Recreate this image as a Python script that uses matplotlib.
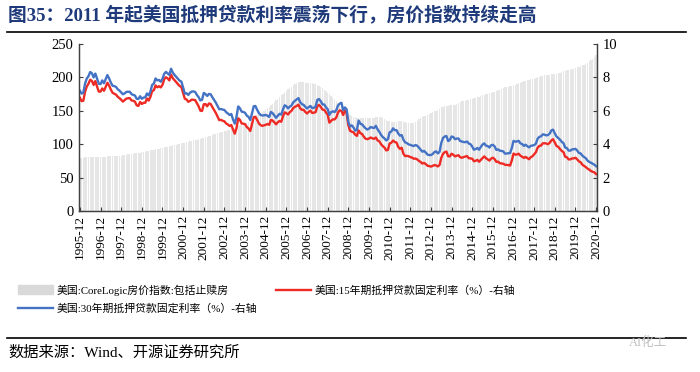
import numpy as np
import matplotlib
matplotlib.use("Agg")
import matplotlib.pyplot as plt
from matplotlib.lines import Line2D
from matplotlib.patches import Patch

plt.rcParams["font.family"] = ["Liberation Serif", "Noto Sans CJK SC"]

# monthly data, 1995-12 .. 2020-12
house_index = [80,
    80, 80, 80.5, 80.5, 80.5, 81, 81, 81, 81, 81, 81, 81,
    81.5, 81.5, 81.5, 82, 82, 82, 82, 82.5, 82.5, 83, 83, 83,
    83.5, 84, 84.5, 85, 85.5, 86, 86, 86.5, 87, 87, 87.5, 88,
    88.5, 89, 89.5, 90, 91, 91.5, 92, 92.5, 93, 93.5, 94, 95,
    95.5, 96, 96.5, 97, 98, 98.5, 99, 99.5, 100, 101, 101.5, 102,
    102.5, 103, 104, 104.5, 105, 106, 106.5, 107, 108, 108.5, 109, 110,
    110.5, 111, 112, 113, 114, 115, 115.5, 116.5, 117.5, 118, 119, 120,
    120.5, 121.5, 122, 123, 124, 125, 126, 127, 128, 129, 130, 131,
    132, 133, 135, 137, 139, 141, 143, 144.5, 146, 148, 150, 152,
    154, 156, 158, 160.5, 163, 165.5, 168, 170.5, 173, 175.5, 178, 180,
    182, 184, 186, 188, 190, 191.5, 192.5, 193, 193, 192.5, 192, 192,
    192, 191.5, 191, 190.5, 189.5, 188, 187, 185.5, 183.5, 181.5, 179.5, 177,
    175, 172.5, 170, 168, 165, 162, 159.5, 157, 154.5, 152, 149, 146,
    144, 142, 141, 140, 139.5, 139, 139, 139, 139, 139, 139, 139,
    139, 139, 139.5, 140, 140.5, 140.5, 140, 139, 137.5, 136, 135, 134,
    133.5, 133, 133, 133.5, 134, 134, 134, 133.5, 133, 132, 131.5, 131,
    131, 131.5, 133, 135, 137, 139, 140.5, 141.5, 142.5, 144, 145.5, 147,
    148, 149, 150, 151.5, 153, 155, 156, 157, 157.5, 157.5, 158, 158,
    158.5, 159, 160, 161.5, 163, 164, 164.5, 165, 165.5, 166, 167, 168,
    168.5, 169, 170, 171, 172, 173, 174, 174.5, 175, 176, 177, 178,
    178.5, 179.5, 180.5, 181.5, 183, 184, 185, 185.5, 186, 186.5, 187, 188,
    189, 190, 191, 192, 193, 194, 195, 195.5, 196, 197, 197.5, 198,
    199, 200, 200.5, 201.5, 202.5, 203, 203.5, 204, 204, 204.5, 204.5, 205,
    205.5, 206, 207, 208, 209, 210, 210.5, 211, 211.5, 212, 213, 214,
    215, 216, 217, 218, 219, 220, 222, 224, 226, 228, 230, 233]

rate_15y = [6.78,
    6.58, 6.60, 7.13, 7.45, 7.62, 7.86, 7.79, 7.55, 7.78, 7.45, 7.15, 7.15,
    7.34, 7.20, 7.43, 7.68, 7.51, 7.27, 7.08, 7.02, 6.97, 6.84, 6.76, 6.66,
    6.55, 6.64, 6.73, 6.75, 6.76, 6.62, 6.60, 6.55, 6.33, 6.29, 6.53, 6.41,
    6.48, 6.48, 6.74, 6.61, 6.83, 7.18, 7.23, 7.52, 7.41, 7.47, 7.40, 7.55,
    7.89, 8.01, 7.94, 7.82, 8.17, 7.95, 7.83, 7.71, 7.58, 7.48, 7.43, 7.06,
    6.72, 6.68, 6.54, 6.59, 6.67, 6.66, 6.64, 6.45, 6.27, 6.01, 5.99, 6.39,
    6.40, 6.27, 6.44, 6.41, 6.22, 6.05, 5.87, 5.66, 5.44, 5.46, 5.40, 5.37,
    5.24, 5.18, 5.09, 5.15, 4.88, 4.63, 4.95, 5.55, 5.46, 5.24, 5.23, 5.20,
    5.03, 4.94, 4.79, 5.19, 5.62, 5.64, 5.46, 5.25, 5.14, 5.10, 5.13, 5.16,
    5.21, 5.16, 5.45, 5.42, 5.31, 5.19, 5.31, 5.39, 5.34, 5.66, 5.91, 5.85,
    5.78, 5.92, 6.00, 6.17, 6.24, 6.29, 6.37, 6.15, 6.06, 6.06, 5.93, 5.84,
    5.94, 6.01, 5.87, 5.89, 5.92, 6.29, 6.35, 6.23, 6.07, 6.06, 5.90, 5.77,
    5.29, 5.40, 5.49, 5.48, 5.60, 5.90, 6.03, 5.99, 5.75, 6.01, 5.86, 5.14,
    4.80, 4.75, 4.71, 4.57, 4.50, 4.82, 4.66, 4.61, 4.45, 4.33, 4.30, 4.34,
    4.40, 4.35, 4.32, 4.40, 4.23, 4.17, 4.00, 3.89, 3.80, 3.63, 3.66, 4.04,
    4.09, 4.22, 4.13, 4.10, 3.84, 3.72, 3.79, 3.43, 3.29, 3.30, 3.28, 3.23,
    3.20, 3.13, 3.14, 3.09, 3.00, 2.94, 2.84, 2.88, 2.81, 2.71, 2.69, 2.66,
    2.70, 2.75, 2.73, 2.67, 2.75, 3.18, 3.42, 3.52, 3.56, 3.28, 3.27, 3.43,
    3.37, 3.27, 3.31, 3.34, 3.22, 3.19, 3.23, 3.26, 3.29, 3.16, 3.15, 3.13,
    2.98, 3.01, 3.06, 2.95, 3.06, 3.17, 3.27, 3.16, 3.09, 3.02, 3.14, 3.19,
    3.11, 2.94, 2.96, 2.86, 2.85, 2.83, 2.77, 2.76, 2.75, 2.72, 3.03, 3.44,
    3.37, 3.39, 3.43, 3.31, 3.25, 3.18, 3.24, 3.17, 3.10, 3.22, 3.28, 3.40,
    3.52, 3.79, 3.90, 3.92, 4.05, 4.06, 4.04, 4.00, 4.08, 4.23, 4.30, 4.09,
    3.89, 3.84, 3.71, 3.60, 3.53, 3.25, 3.22, 3.09, 3.09, 3.15, 3.15, 3.19,
    3.09, 2.97, 2.92, 2.77, 2.70, 2.63, 2.54, 2.48, 2.39, 2.35, 2.31, 2.21]

rate_30y = [7.20,
    7.03, 7.08, 7.62, 7.93, 8.07, 8.32, 8.25, 8.00, 8.23, 7.92, 7.62, 7.60,
    7.82, 7.65, 7.90, 8.14, 7.94, 7.69, 7.50, 7.48, 7.43, 7.29, 7.21, 7.10,
    6.99, 7.04, 7.13, 7.14, 7.14, 7.00, 6.95, 6.92, 6.72, 6.71, 6.87, 6.72,
    6.79, 6.81, 7.04, 6.92, 7.15, 7.55, 7.63, 7.94, 7.82, 7.85, 7.74, 7.91,
    8.21, 8.33, 8.24, 8.15, 8.52, 8.29, 8.15, 8.03, 7.91, 7.80, 7.75, 7.38,
    7.03, 7.05, 6.95, 7.08, 7.15, 7.16, 7.13, 6.95, 6.82, 6.62, 6.66, 7.07,
    7.00, 6.89, 7.01, 6.99, 6.81, 6.65, 6.49, 6.29, 6.09, 6.11, 6.07, 6.05,
    5.92, 5.84, 5.75, 5.81, 5.48, 5.23, 5.63, 6.26, 6.15, 5.95, 5.93, 5.88,
    5.71, 5.64, 5.45, 5.83, 6.27, 6.29, 6.06, 5.87, 5.75, 5.72, 5.73, 5.75,
    5.71, 5.63, 5.93, 5.86, 5.72, 5.58, 5.70, 5.82, 5.77, 6.07, 6.33, 6.27,
    6.15, 6.25, 6.32, 6.51, 6.60, 6.68, 6.76, 6.52, 6.40, 6.36, 6.24, 6.14,
    6.22, 6.29, 6.16, 6.18, 6.26, 6.66, 6.70, 6.57, 6.38, 6.38, 6.21, 6.10,
    5.76, 5.92, 5.97, 5.92, 6.04, 6.32, 6.43, 6.48, 6.04, 6.20, 6.09, 5.33,
    5.06, 5.13, 5.00, 4.81, 4.86, 5.42, 5.22, 5.19, 5.06, 4.95, 4.88, 4.93,
    5.03, 4.99, 4.97, 5.10, 4.89, 4.74, 4.56, 4.43, 4.35, 4.23, 4.30, 4.71,
    4.76, 4.95, 4.84, 4.84, 4.64, 4.51, 4.55, 4.27, 4.11, 4.07, 3.99, 3.96,
    3.92, 3.89, 3.95, 3.91, 3.80, 3.68, 3.55, 3.60, 3.50, 3.38, 3.35, 3.35,
    3.41, 3.53, 3.57, 3.45, 3.54, 4.07, 4.37, 4.46, 4.49, 4.19, 4.26, 4.46,
    4.43, 4.30, 4.34, 4.34, 4.19, 4.16, 4.13, 4.12, 4.16, 4.04, 4.00, 3.86,
    3.67, 3.71, 3.77, 3.67, 3.84, 3.98, 4.05, 3.91, 3.89, 3.80, 3.94, 3.96,
    3.87, 3.66, 3.69, 3.61, 3.60, 3.57, 3.44, 3.44, 3.46, 3.47, 3.77, 4.20,
    4.15, 4.17, 4.20, 4.05, 4.01, 3.90, 3.97, 3.88, 3.81, 3.90, 3.92, 3.95,
    4.03, 4.33, 4.44, 4.47, 4.59, 4.57, 4.53, 4.55, 4.63, 4.83, 4.87, 4.64,
    4.46, 4.37, 4.27, 4.14, 4.07, 3.80, 3.77, 3.62, 3.61, 3.69, 3.70, 3.72,
    3.62, 3.47, 3.45, 3.31, 3.23, 3.16, 3.02, 2.94, 2.89, 2.83, 2.77, 2.68]

tick_labels = [f"{y}-12" for y in range(1995, 2021)]

title = "图35：2011 年起美国抵押贷款利率震荡下行，房价指数持续走高"
label_house = "美国:CoreLogic房价指数:包括止赎房"
label_15y = "美国:15年期抵押贷款固定利率（%）-右轴"
label_30y = "美国:30年期抵押贷款固定利率（%）-右轴"
source = "数据来源：Wind、开源证券研究所"

RED = "#ee2a24"
BLUE = "#4472c4"
GREY = "#e6e6e6"

W, H = 700, 372
fig = plt.figure(figsize=(W / 100, H / 100), dpi=100)
ax = fig.add_axes([79 / W, 1 - 211 / H, (597 - 79) / W, (211 - 44) / H])
x = np.arange(len(house_index))
ax.bar(x, house_index, width=0.75, color=GREY, linewidth=0)
ax.set_ylim(0, 250)
ax.set_yticks(range(0, 251, 50))
ax.set_xlim(-0.5, len(x) - 0.5)
ax.set_xticks(range(0, len(x), 12))
ax.set_xticklabels(tick_labels, rotation=90)

ax2 = ax.twinx()
ax2.plot(x, rate_15y, color=RED, lw=1.7)
ax2.plot(x, rate_30y, color=BLUE, lw=1.7)
ax2.set_ylim(0, 10)
ax2.set_yticks(range(0, 11, 2))

for a in (ax, ax2):
    a.spines["top"].set_visible(False)
    for s in ("left", "right", "bottom"):
        a.spines[s].set_color("#404040")
        a.spines[s].set_linewidth(0.9)
    a.tick_params(direction="in", length=3, width=0.8, color="#404040",
                  labelsize=10.5, pad=4)
ax.tick_params(axis="x", labelsize=9.5, pad=3)

fig.text(8 / W, 1 - 16 / H, title, fontsize=13.5, fontweight="bold",
         color="#1f3a7a", va="center", ha="left")
fig.add_artist(Line2D([7 / W, 686 / W], [1 - 32 / H] * 2, color="black", lw=1.2))
fig.add_artist(Line2D([7 / W, 686 / W], [1 - 338 / H] * 2, color="black", lw=1.2))
fig.text(8 / W, 1 - 353 / H, source, fontsize=11, va="center", ha="left")
fig.text(648 / W, 1 - 343 / H, "AI化工", fontsize=9, color="#c0c0c0",
         va="center", ha="center")

handles = [Patch(color="#d9d9d9"), Line2D([], [], color=BLUE, lw=1.7),
           Line2D([], [], color=RED, lw=1.7)]
labels = [label_house, label_30y, label_15y]
fig.legend(handles, labels, ncol=2, loc="upper left",
           bbox_to_anchor=(14 / W, 1 - 280 / H), frameon=False, fontsize=7.8,
           handlelength=3.2, handleheight=0.9, handletextpad=0.3,
           columnspacing=1.8, labelspacing=0.7, borderaxespad=0)

fig.savefig("out.png", dpi=100)
